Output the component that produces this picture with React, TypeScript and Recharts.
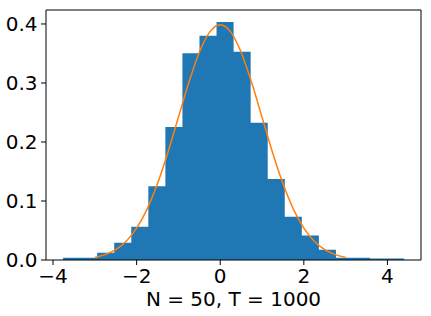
import React from 'react';
import { ComposedChart, Area, Line, XAxis, YAxis, ReferenceLine } from 'recharts';

// histogram bin edges (20 bins) and density per bin
const binEdges = [
  -3.76, -3.352, -2.944, -2.536, -2.128, -1.72, -1.312, -0.904, -0.496, -0.088,
  0.32, 0.728, 1.136, 1.544, 1.952, 2.36, 2.768, 3.176, 3.584, 3.992, 4.4,
];
const density = [
  0.0037, 0.0037, 0.0123, 0.0294, 0.0564, 0.125, 0.2255, 0.3505, 0.3799, 0.4035,
  0.3529, 0.2328, 0.1373, 0.0735, 0.0417, 0.0172, 0.0039, 0.0039, 0.0025, 0.0025,
];

// orange curve, read at 0.25 steps
const curveX = [
  -3, -2.75, -2.5, -2.25, -2, -1.75, -1.5, -1.25, -1, -0.75, -0.5, -0.25, 0,
  0.25, 0.5, 0.75, 1, 1.25, 1.5, 1.75, 2, 2.25, 2.5, 2.75, 3,
];
const curveY = [
  0.0044, 0.0091, 0.0175, 0.0317, 0.054, 0.0863, 0.1295, 0.1826, 0.242, 0.3011,
  0.3521, 0.3867, 0.3989, 0.3867, 0.3521, 0.3011, 0.242, 0.1826, 0.1295, 0.0863,
  0.054, 0.0317, 0.0175, 0.0091, 0.0044,
];

const xTicks = [-4, -2, 0, 2, 4];
const yTicks = [0, 0.1, 0.2, 0.3, 0.4];
const xLabel = 'N = 50, T = 1000';
const xDomain = [-4.168, 4.803];
const yDomain = [0, 0.4237];

const histData = binEdges.map((x, i) => ({ x, y: density[Math.min(i, density.length - 1)] }));
const curveData = curveX.map((x, i) => ({ x, y: curveY[i] }));

const font = { fontFamily: 'DejaVu Sans', fontSize: 20, fill: '#000' };
const fmtX = (v: number) => (v < 0 ? '\u2212' + Math.abs(v) : String(v));
const fmtY = (v: number) => v.toFixed(1);

export default function App() {
  return (
    <div style={{ position: 'absolute', left: 0, top: 0, background: '#fff' }}>
      <ComposedChart width={431} height={316} margin={{ top: 10, right: 10, bottom: 0, left: 0 }}>
        <XAxis
          type="number"
          dataKey="x"
          domain={xDomain}
          ticks={xTicks}
          interval={0}
          tickFormatter={fmtX}
          tick={font}
          tickSize={5}
          tickMargin={4}
          stroke="#000"
          height={56}
          allowDataOverflow
          label={{ value: xLabel, position: 'insideBottom', offset: 10, ...font }}
        />
        <YAxis
          type="number"
          domain={yDomain}
          ticks={yTicks}
          interval={0}
          tickFormatter={fmtY}
          tick={font}
          tickSize={5}
          tickMargin={3.5}
          stroke="#000"
          width={46}
          allowDataOverflow
        />
        <Area
          data={histData}
          dataKey="y"
          type="stepAfter"
          fill="#1f77b4"
          fillOpacity={1}
          stroke="none"
          isAnimationActive={false}
        />
        <Line
          data={curveData}
          dataKey="y"
          type="monotone"
          stroke="#ff7f0e"
          strokeWidth={1.5}
          dot={false}
          isAnimationActive={false}
        />
        {/* top and right frame lines */}
        <ReferenceLine y={yDomain[1]} stroke="#000" ifOverflow="visible" />
        <ReferenceLine x={xDomain[1]} stroke="#000" ifOverflow="visible" />
      </ComposedChart>
    </div>
  );
}
